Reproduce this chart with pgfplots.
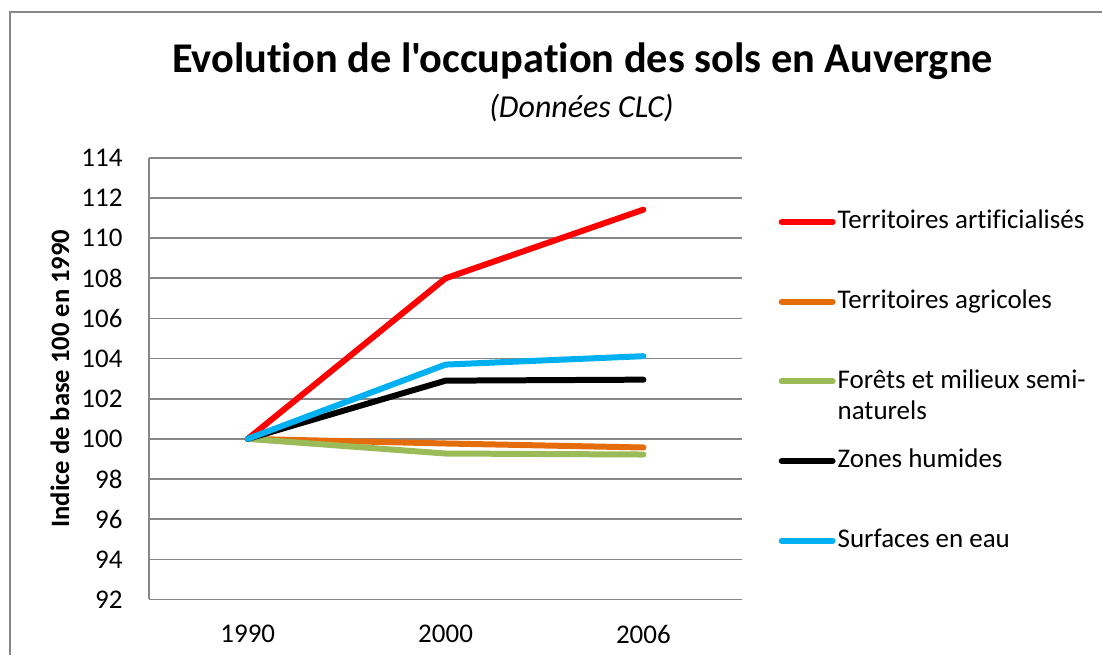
\documentclass[border=0pt]{standalone}
\usepackage{pgfplots}
\pgfplotsset{compat=1.18}
\usepackage{fontspec}
\setmainfont{Carlito}[Ligatures=NoCommon]
\newfontfamily\plainfont{Carlito}[Ligatures=NoCommon]
\definecolor{cRed}{HTML}{FF0000}
\definecolor{cOrange}{HTML}{E46C0A}
\definecolor{cGreen}{HTML}{9BBB59}
\definecolor{cBlue}{HTML}{00B0F0}
\definecolor{cGrid}{HTML}{878787}
\begin{document}
\begin{tikzpicture}
\path (-74.5pt,-28pt) rectangle (477pt,300pt);
\draw[cGrid, line width=1pt] (-69.5pt,-28pt) -- (-69.5pt,294pt) -- (477pt,294pt);
\begin{axis}[
    scale only axis,
    width=297pt, height=221pt,
    xmin=-0.5, xmax=2.5,
    ymin=92, ymax=114,
    xtick={0,1,2},
    xticklabels={1990,2000,2006},
    ytick={92,94,...,114},
    ymajorgrids=true,
    grid style={cGrid, line width=0.8pt},
    axis x line*=bottom,
    axis y line*=left,
    axis line style={cGrid, line width=0.8pt, -},
    major tick length=0pt,
    tick style={draw=none},
    /pgf/number format/assume math mode=true,
    ticklabel style={font=\fontsize{13.5}{16}\selectfont, inner sep=0pt},
    yticklabel style={xshift=-13pt},
    xticklabel style={yshift=-12.5pt},
    ylabel={\bfseries Indice de base 100 en 1990},
    ylabel style={font=\fontsize{13.3}{16}\selectfont, at={(axis description cs:-0.1498,0.5)}, anchor=center},
    legend cell align=left,
    legend style={draw=none, fill=none, inner sep=0pt, column sep=1pt, row sep=29pt,
        at={(axis description cs:1.0606,0.8824)}, anchor=north west,
        font=\fontsize{13.5}{15.5}\selectfont,
        nodes={inner sep=0pt}},
    legend image code/.code={\draw[#1] (1.5pt,-0.5pt) -- (27pt,-0.5pt);},
    every axis plot/.append style={line width=3pt, line join=round, line cap=round},
]
\addplot[cRed] coordinates {(0,100) (1,108.0) (2,111.42)};
\addlegendentry{Territoires artificialisés}
\addplot[cOrange] coordinates {(0,100) (1,99.77) (2,99.57)};
\addlegendentry{Territoires agricoles}
\addplot[cGreen] coordinates {(0,100) (1,99.27) (2,99.22)};
\addlegendentry{\vtop{\hbox{Forêts et milieux semi-}\hbox{naturels}}}
\addplot[black] coordinates {(0,100) (1,102.9) (2,102.95)};
\addlegendentry{Zones humides}
\addplot[cBlue] coordinates {(0,100) (1,103.7) (2,104.12)};
\addlegendentry{Surfaces en eau}
\end{axis}
\node[anchor=base, font=\fontsize{21.2}{24}\plainfont\bfseries] at (217pt,263.5pt) {Evolution de l'occupation des sols en Auvergne};
\node[anchor=base, font=\fontsize{16}{19}\selectfont\itshape] at (216.5pt,241pt) {(Données CLC)};
\end{tikzpicture}
\end{document}
